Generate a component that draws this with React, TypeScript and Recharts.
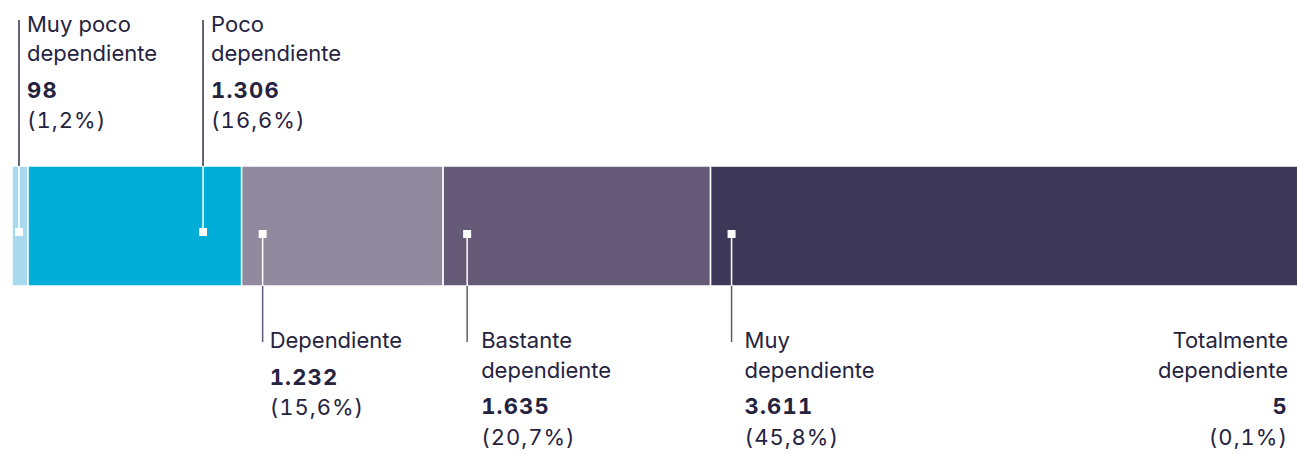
import React from "react";
import { BarChart, Bar, XAxis, YAxis, LabelList } from "recharts";

const categories = [
  "Muy poco\ndependiente",
  "Poco\ndependiente",
  "Dependiente",
  "Bastante\ndependiente",
  "Muy\ndependiente",
  "Totalmente\ndependiente",
];
const counts = [98, 1306, 1232, 1635, 3611, 5];
const countLabels = ["98", "1.306", "1.232", "1.635", "3.611", "5"];
const percentLabels = ["(1,2%)", "(16,6%)", "(15,6%)", "(20,7%)", "(45,8%)", "(0,1%)"];
const colors = ["#a9d9ef", "#00aed8", "#918a9e", "#655a78", "#3e3858", "#2c2842"];

const seriesKeys = counts.map((_, i) => `s${i}`);
const total = counts.reduce((a, b) => a + b, 0);
const data = [
  counts.reduce(
    (row: Record<string, number | string>, v, i) => {
      row[seriesKeys[i]] = v;
      return row;
    },
    { name: "total" } as Record<string, number | string>
  ),
];

const TEXT = "#25233f";
const LINE_TOP = "#34314b";
const LINE_BOTTOM = "#5f5a77";
const FONT = "Inter, 'Noto Sans', sans-serif";
const FS = 22;
const numStyle: React.CSSProperties = { fontVariantNumeric: "tabular-nums" };

type Style = { side: "top" | "bottom" | "end"; marker?: number; text?: number; inset?: number };
const labelStyles: Style[] = [
  { side: "top", marker: 7, text: 8 },
  { side: "top", marker: 175, text: 8 },
  { side: "bottom", marker: 21, text: 7 },
  { side: "bottom", marker: 24, text: 14 },
  { side: "bottom", marker: 21, text: 13 },
  { side: "end", inset: 14 },
];

const renderTexts = (
  i: number,
  tx: number,
  firstBaseline: number,
  anchor: "start" | "end"
) => {
  const lines = categories[i].split("\n");
  const nameEls = lines.map((l, k) => (
    <text
      key={`n${k}`}
      x={tx}
      y={firstBaseline + k * 29.5}
      textAnchor={anchor}
      fontFamily={FONT}
      fontSize={FS}
      fill={TEXT}
    >
      {l}
    </text>
  ));
  const valueY = firstBaseline + (lines.length - 1) * 29.5 + 36.5;
  const pctY = valueY + 30.5;
  return (
    <>
      {nameEls}
      <text
        x={tx}
        y={valueY}
        textAnchor={anchor}
        fontFamily={FONT}
        fontSize={FS}
        fontWeight={700}
        fill={TEXT}
        letterSpacing={1.2}
        style={numStyle}
      >
        {countLabels[i]}
      </text>
      <text
        x={tx}
        y={pctY}
        textAnchor={anchor}
        fontFamily={FONT}
        fontSize={FS}
        fill={TEXT}
        letterSpacing={1}
        style={numStyle}
      >
        {percentLabels[i]}
      </text>
    </>
  );
};

const makeLabel = (i: number) => (props: any) => {
  const x = Number(props.x);
  const y = Number(props.y);
  const width = Number(props.width);
  const height = Number(props.height);
  const st = labelStyles[i];
  if (st.side === "top") {
    const mx = x + (st.marker || 0);
    const my = y + 66;
    return (
      <g>
        <line x1={mx} x2={mx} y1={20} y2={y} stroke={LINE_TOP} strokeWidth={1.5} />
        <line x1={mx} x2={mx} y1={y} y2={my} stroke="#ffffff" strokeWidth={1.5} />
        <rect x={mx - 4} y={my - 4} width={8} height={8} fill="#ffffff" />
        {renderTexts(i, mx + (st.text || 0), 31.5, "start")}
      </g>
    );
  }
  if (st.side === "bottom") {
    const mx = x + (st.marker || 0);
    const my = y + 68;
    const bottom = y + height;
    return (
      <g>
        <line x1={mx} x2={mx} y1={my} y2={bottom} stroke="#ffffff" strokeWidth={1.5} />
        <line x1={mx} x2={mx} y1={bottom} y2={bottom + 56} stroke={LINE_BOTTOM} strokeWidth={1.5} />
        <rect x={mx - 4} y={my - 4} width={8} height={8} fill="#ffffff" />
        {renderTexts(i, mx + (st.text || 0), bottom + 62, "start")}
      </g>
    );
  }
  return <g>{renderTexts(i, x + width - (st.inset || 0), y + height + 62, "end")}</g>;
};

export default function App() {
  return (
    <div
      style={{
        position: "absolute",
        left: 0,
        top: 0,
        width: 1297,
        height: 454,
        overflow: "hidden",
        background: "#ffffff",
      }}
    >
      <BarChart
        width={1302}
        height={454}
        data={data}
        layout="vertical"
        margin={{ top: 166, right: 0, bottom: 168, left: 12 }}
        barCategoryGap={0}
      >
        <XAxis type="number" hide domain={[0, total]} />
        <YAxis type="category" dataKey="name" hide />
        {seriesKeys.map((k, i) => (
          <Bar
            key={k}
            dataKey={k}
            stackId="a"
            fill={colors[i]}
            stroke="#ffffff"
            strokeWidth={1.5}
            isAnimationActive={false}
          >
            <LabelList dataKey={k} content={makeLabel(i)} />
          </Bar>
        ))}
      </BarChart>
    </div>
  );
}
